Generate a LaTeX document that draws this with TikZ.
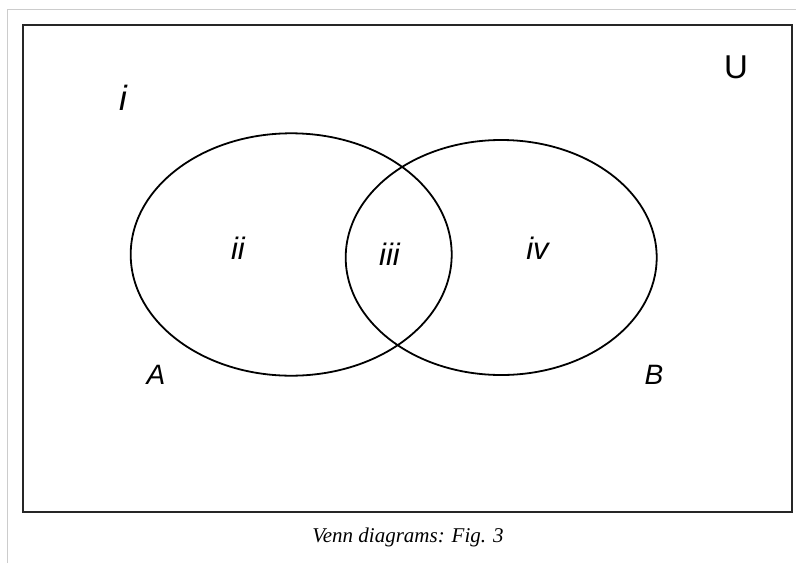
\documentclass[tikz,border=0pt]{standalone}
\usepackage{fontspec}
\setmainfont{Liberation Serif}
\newfontfamily\labelfont{Liberation Sans}
\begin{document}
\begin{tikzpicture}[x=1pt,y=-1pt,
  setlabel/.style={inner sep=0pt,font=\labelfont\itshape\fontsize{28}{30}\selectfont},
  numlabel/.style={inner sep=0pt,font=\labelfont\itshape\fontsize{31}{33}\selectfont},
  setline/.style={line width=1.8pt,black}]
\useasboundingbox (0,0) rectangle (796,563);
\fill[white] (0,0) rectangle (796,563);
% outer gray frame
\draw[line width=1pt,black!20] (7,563) -- (7,9) -- (796,9);
% universe rectangle
\draw[line width=2pt,black!85] (23,25) rectangle (792,512);
% sets
\draw[setline] (291.2,254.5) ellipse [x radius=160.5pt, y radius=121.2pt];
\draw[setline] (501.2,257.5) ellipse [x radius=155.5pt, y radius=117.5pt];
% labels
\node[numlabel,font=\labelfont\itshape\fontsize{35}{37}\selectfont] (ri) at (123,98) {i};
\node[numlabel] (rii) at (238,248) {ii};
\node[numlabel] (riii) at (389.5,254.5) {iii};
\node[numlabel] (riv) at (537.5,248) {iv};
\node[setlabel] (la) at (156,375) {A};
\node[setlabel] (lb) at (654,375) {B};
\node[inner sep=0pt,font=\labelfont\fontsize{33}{35}\selectfont] (lu) at (736,67) {U};
\node[inner sep=0pt,font=\itshape\fontsize{21}{23}\selectfont] (cap) at (408,537) {Venn diagrams: Fig. 3};
\end{tikzpicture}
\end{document}
